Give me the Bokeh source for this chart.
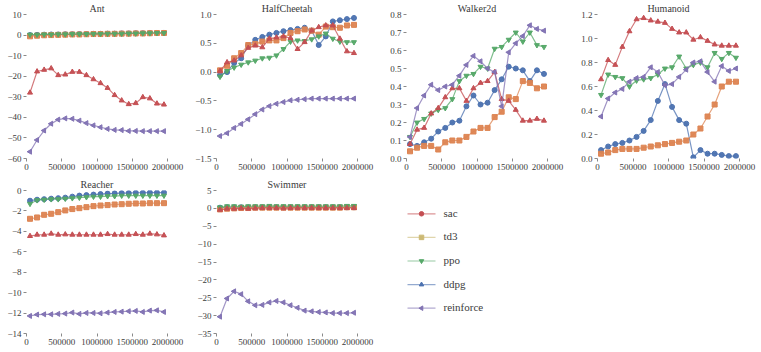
from bokeh.plotting import figure
from bokeh.models import Range1d, FixedTicker, ColumnDataSource
from bokeh.layouts import column, row
from bokeh.embed import file_html
from bokeh.resources import INLINE
from bokeh.core.properties import value

# ---------------- data ----------------
steps = [50000, 150000, 250000, 350000, 450000, 550000, 650000, 750000, 850000, 950000,
         1050000, 1150000, 1250000, 1350000, 1450000, 1550000, 1650000, 1750000, 1850000, 1950000]
x_ticks = [0, 500000, 1000000, 1500000, 2000000]

algos = ["sac", "td3", "ppo", "ddpg", "reinforce"]

# Ant
ant_sac = [0.0, 0.1, 0.2, 0.3, 0.3, 0.4, 0.4, 0.5, 0.5, 0.6, 0.6, 0.7, 0.7, 0.8, 0.8, 0.9, 0.9, 1.0, 1.0, 1.1]
ant_td3 = [-0.6, -0.3, -0.1, 0.0, 0.1, 0.2, 0.3, 0.3, 0.4, 0.5, 0.5, 0.6, 0.6, 0.7, 0.7, 0.8, 0.8, 0.9, 1.0, 1.0]
ant_ppo = [0.2, 0.2, 0.3, 0.3, 0.4, 0.4, 0.5, 0.5, 0.5, 0.6, 0.6, 0.7, 0.7, 0.7, 0.8, 0.8, 0.9, 0.9, 1.0, 1.0]
ant_ddpg = [-28.0, -17.7, -16.9, -16.2, -19.5, -19.2, -17.9, -17.9, -19.5, -21.5,
            -23.4, -25.7, -29.2, -31.8, -33.6, -33.1, -30.2, -30.8, -33.3, -33.8]
ant_reinforce = [-56.7, -51.0, -46.4, -43.1, -41.1, -40.5, -40.7, -41.6, -42.8, -43.9,
                 -44.8, -45.6, -46.1, -46.2, -46.6, -46.6, -46.7, -46.7, -46.7, -46.7]

# HalfCheetah
hc_sac = [-0.05, 0.00, 0.16, 0.24, 0.46, 0.56, 0.61, 0.65, 0.68, 0.71,
          0.73, 0.75, 0.77, 0.72, 0.47, 0.62, 0.88, 0.90, 0.92, 0.94]
hc_td3 = [0.03, 0.11, 0.24, 0.33, 0.47, 0.49, 0.53, 0.55, 0.55, 0.59,
          0.68, 0.71, 0.74, 0.72, 0.65, 0.79, 0.78, 0.77, 0.81, 0.82]
hc_ppo = [-0.08, 0.02, 0.08, 0.13, 0.17, 0.20, 0.24, 0.25, 0.29, 0.40,
          0.53, 0.55, 0.54, 0.57, 0.62, 0.67, 0.58, 0.53, 0.52, 0.52]
hc_ddpg = [0.02, 0.17, 0.20, 0.29, 0.42, 0.46, 0.43, 0.58, 0.60, 0.62,
           0.59, 0.40, 0.52, 0.72, 0.78, 0.81, 0.81, 0.58, 0.36, 0.33]
hc_reinforce = [-1.11, -1.06, -0.97, -0.90, -0.82, -0.73, -0.65, -0.59, -0.55, -0.52,
                -0.49, -0.48, -0.47, -0.46, -0.46, -0.46, -0.46, -0.46, -0.46, -0.46]

# Walker2d
w_sac = [0.08, 0.07, 0.09, 0.11, 0.15, 0.17, 0.20, 0.21, 0.29, 0.35,
         0.30, 0.31, 0.38, 0.44, 0.51, 0.50, 0.49, 0.43, 0.49, 0.47]
w_td3 = [0.04, 0.06, 0.07, 0.07, 0.05, 0.09, 0.10, 0.10, 0.12, 0.15,
         0.17, 0.17, 0.23, 0.26, 0.34, 0.33, 0.43, 0.42, 0.39, 0.40]
w_ppo = [0.12, 0.20, 0.22, 0.25, 0.27, 0.28, 0.33, 0.43, 0.46, 0.47,
         0.51, 0.50, 0.61, 0.62, 0.66, 0.70, 0.65, 0.70, 0.63, 0.62]
w_ddpg = [0.08, 0.16, 0.17, 0.25, 0.28, 0.34, 0.39, 0.39, 0.32, 0.39,
          0.42, 0.43, 0.48, 0.33, 0.32, 0.27, 0.21, 0.21, 0.22, 0.21]
w_reinforce = [0.12, 0.28, 0.35, 0.41, 0.38, 0.40, 0.41, 0.46, 0.52, 0.57,
               0.54, 0.50, 0.48, 0.29, 0.59, 0.64, 0.68, 0.74, 0.72, 0.71]

# Humanoid
h_sac = [0.07, 0.10, 0.12, 0.13, 0.15, 0.18, 0.23, 0.32, 0.48, 0.62,
         0.43, 0.32, 0.29, 0.01, 0.07, 0.04, 0.04, 0.03, 0.02, 0.02]
h_td3 = [0.04, 0.05, 0.07, 0.08, 0.08, 0.08, 0.09, 0.10, 0.11, 0.12,
         0.13, 0.14, 0.15, 0.20, 0.25, 0.35, 0.45, 0.60, 0.64, 0.64]
h_ppo = [0.53, 0.70, 0.68, 0.67, 0.60, 0.65, 0.66, 0.67, 0.70, 0.75,
         0.76, 0.85, 0.75, 0.78, 0.80, 0.76, 0.88, 0.83, 0.88, 0.84]
h_ddpg = [0.66, 0.82, 0.78, 0.93, 1.06, 1.16, 1.17, 1.15, 1.14, 1.13,
          1.08, 1.05, 1.05, 0.99, 1.01, 0.98, 0.95, 0.94, 0.94, 0.94]
h_reinforce = [0.35, 0.50, 0.55, 0.58, 0.64, 0.67, 0.68, 0.76, 0.72, 0.61,
               0.62, 0.68, 0.74, 0.80, 0.81, 0.72, 0.64, 0.77, 0.73, 0.75]

# Reacher
r_sac = [-1.0, -0.9, -0.85, -0.8, -0.75, -0.7, -0.6, -0.5, -0.45, -0.4,
         -0.35, -0.3, -0.28, -0.25, -0.25, -0.22, -0.22, -0.2, -0.2, -0.2]
r_td3 = [-2.77, -2.64, -2.38, -2.28, -2.12, -1.95, -1.82, -1.73, -1.63, -1.53,
         -1.47, -1.43, -1.37, -1.34, -1.30, -1.27, -1.27, -1.24, -1.24, -1.24]
r_ppo = [-1.3, -0.95, -0.9, -0.85, -0.85, -0.8, -0.75, -0.7, -0.65, -0.6,
         -0.6, -0.55, -0.55, -0.5, -0.5, -0.5, -0.5, -0.5, -0.5, -0.5]
r_ddpg = [-4.46, -4.33, -4.33, -4.23, -4.33, -4.30, -4.33, -4.33, -4.33, -4.33,
          -4.33, -4.27, -4.33, -4.33, -4.33, -4.27, -4.33, -4.23, -4.30, -4.40]
r_reinforce = [-12.28, -12.15, -12.12, -12.12, -12.08, -12.05, -11.95, -12.08, -11.99, -11.99,
               -12.02, -11.95, -11.89, -11.86, -11.82, -11.79, -11.89, -11.76, -11.73, -11.89]

# Swimmer
s_sac = [0.2, 0.3, 0.3, 0.3, 0.3, 0.3, 0.3, 0.3, 0.3, 0.3,
         0.3, 0.3, 0.3, 0.3, 0.3, 0.3, 0.3, 0.3, 0.3, 0.3]
s_td3 = [-0.3, -0.1, 0.0, 0.1, 0.1, 0.2, 0.2, 0.2, 0.2, 0.2,
         0.2, 0.2, 0.2, 0.2, 0.2, 0.2, 0.2, 0.2, 0.3, 0.3]
s_ppo = [0.3, 0.6, 0.6, 0.5, 0.6, 0.6, 0.6, 0.7, 0.6, 0.6,
         0.6, 0.6, 0.6, 0.6, 0.6, 0.6, 0.6, 0.6, 0.7, 0.7]
s_ddpg = [-0.4, -0.1, -0.1, 0.0, -0.1, 0.0, 0.1, 0.1, 0.1, 0.0,
          0.1, 0.1, 0.1, 0.1, 0.1, 0.1, 0.1, 0.1, 0.1, 0.1]
s_reinforce = [-30.3, -25.2, -23.2, -24.0, -26.0, -27.1, -27.0, -26.3, -25.9, -26.3,
               -27.1, -27.8, -28.6, -28.8, -29.0, -29.1, -29.3, -29.3, -29.3, -29.2]

ant_yticks = [-60, -50, -40, -30, -20, -10, 0, 10]
hc_yticks = [-1.5, -1.0, -0.5, 0.0, 0.5, 1.0]
w_yticks = [0.0, 0.1, 0.2, 0.3, 0.4, 0.5, 0.6, 0.7, 0.8]
h_yticks = [0.0, 0.2, 0.4, 0.6, 0.8, 1.0, 1.2]
r_yticks = [-14, -12, -10, -8, -6, -4, -2, 0]
s_yticks = [-35, -30, -25, -20, -15, -10, -5, 0, 5]

# ---------------- style ----------------
FONT = "Liberation Serif"
series_colors = ["#4C72B0", "#DD8452", "#55A868", "#C44E52", "#8172B3"]
series_markers = ["circle", "square", "inverted_triangle", "triangle", "triangle"]
series_angles = [0, 0, 0, 0, 1.5707963]

legend_colors = ["#C44E52", "#CCB974", "#55A868", "#4C72B0", "#8172B2"]
legend_markers = ["circle", "square", "inverted_triangle", "triangle", "triangle"]
legend_angles = [0, 0, 0, 0, 1.5707963]


def fmt(v, dec):
    s = f"{abs(v):.{dec}f}"
    return ("\u2212" + s) if v < 0 else s


def panel(title, series, yticks, dec, width, height, bl, br, bt, bb):
    p = figure(width=width, height=height, output_backend="svg", toolbar_location=None,
               x_range=Range1d(0, 2000000), y_range=Range1d(yticks[0], yticks[-1]),
               min_border_left=bl, min_border_right=br, min_border_top=bt, min_border_bottom=bb,
               outline_line_color=None, background_fill_color="white", border_fill_color="white")
    p.grid.visible = False
    p.title.text = title
    p.title.align = "center"
    p.title.text_font = FONT
    p.title.text_font_size = "10px"
    p.title.text_font_style = "normal"
    p.title.text_color = "#3a3a3a"
    p.title.standoff = 1
    p.title.offset = 0
    for ax, ticks, d in ((p.xaxis, x_ticks, 0), (p.yaxis, yticks, dec)):
        ax.ticker = FixedTicker(ticks=ticks)
        ax.major_label_overrides = {t: fmt(t, d) for t in ticks}
        ax.axis_line_color = None
        ax.major_tick_line_color = "#8a8a8a"
        ax.major_tick_out = 3
        ax.major_tick_in = 0
        ax.minor_tick_line_color = None
        ax.major_label_text_font = FONT
        ax.major_label_text_font_size = "9px"
        ax.major_label_text_color = "#3c3c3c"
        ax.major_label_standoff = 2
    for i, ys in enumerate(series):
        c = series_colors[i]
        p.line(steps, ys, line_color=c, line_width=1.2, line_alpha=0.75)
        p.scatter(steps, ys, marker=series_markers[i], angle=series_angles[i], size=5,
                  fill_color=c, line_color=c, fill_alpha=0.95)
    return p


p1 = panel("Ant", [ant_sac, ant_td3, ant_ppo, ant_ddpg, ant_reinforce], ant_yticks, 0,
           190, 176, 26, 23, 2, 18)
p2 = panel("HalfCheetah", [hc_sac, hc_td3, hc_ppo, hc_ddpg, hc_reinforce], hc_yticks, 1,
           190, 176, 26, 23, 2, 18)
p3 = panel("Walker2d", [w_sac, w_td3, w_ppo, w_ddpg, w_reinforce], w_yticks, 1,
           190, 176, 26, 23, 2, 18)
p4 = panel("Humanoid", [h_sac, h_td3, h_ppo, h_ddpg, h_reinforce], h_yticks, 1,
           190, 176, 27, 21, 2, 18)
p5 = panel("Reacher", [r_sac, r_td3, r_ppo, r_ddpg, r_reinforce], r_yticks, 0,
           190, 176, 26, 23, 0, 19)
p6 = panel("Swimmer", [s_sac, s_td3, s_ppo, s_ddpg, s_reinforce], s_yticks, 0,
           190, 176, 26, 23, 0, 19)

# ---------------- legend panel (drawn by hand, one row per algorithm) ----------------
LEG_FRAME_H = 143      # the legend panel's frame is aligned with its row neighbours
ROW_PX = 23.6          # pixel pitch between legend rows
FIRST_ROW_PX = 23.3    # first row centre, pixels below frame top
span = LEG_FRAME_H / ROW_PX
top = FIRST_ROW_PX / ROW_PX
p7 = figure(width=180, height=176, output_backend="svg", toolbar_location=None,
            title=None, x_range=Range1d(0, 180), y_range=Range1d(top - span, top),
            x_axis_location=None, y_axis_location=None, min_border=0,
            outline_line_color=None)
p7.grid.visible = False
rows = [-i for i in range(len(algos))]
n = len(algos)
leg = ColumnDataSource(dict(
    y=rows, x0=[27] * n, x1=[55] * n, xm=[41] * n, xt=[63] * n,
    color=legend_colors, marker=legend_markers, angle=legend_angles, name=algos))
p7.segment(x0="x0", x1="x1", y0="y", y1="y", line_color="color", line_width=1.2,
           line_alpha=0.6, source=leg)
p7.scatter(x="xm", y="y", marker="marker", angle="angle", size=4.5, fill_color="color",
           line_color="color", source=leg)
p7.text(x="xt", y="y", text="name", text_font=value(FONT), text_font_size=value("11px"),
        text_color="#3c3c3c", text_baseline="middle", text_align="left", y_offset=-1,
        source=leg)

layout = column(row(p1, p2, p3, p4), row(p5, p6, p7))
open("out.html", "w").write(file_html(layout, INLINE))
